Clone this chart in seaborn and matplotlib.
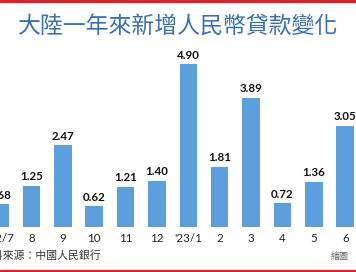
import matplotlib
matplotlib.use("Agg")
import matplotlib.pyplot as plt
import seaborn as sns
import pandas as pd
from matplotlib.patches import Rectangle

months = ["'22/7", "8", "9", "10", "11", "12", "'23/1", "2", "3", "4", "5", "6"]
values = [0.68, 1.25, 2.47, 0.62, 1.21, 1.40, 4.90, 1.81, 3.89, 0.72, 1.36, 3.05]
title = "大陸一年來新增人民幣貸款變化"
source = "資料來源：中國人民銀行"
credit = "繪圖"

sns.set_theme(style="white")
plt.rcParams['font.family'] = ['Lato', 'Noto Sans CJK TC', 'DejaVu Sans']

W, H = 356, 272
fig = plt.figure(figsize=(W / 100, H / 100), dpi=100)
base_px = 227
top_px = 50
ax = fig.add_axes([0, (H - base_px) / H, 1, (base_px - top_px) / H])

df = pd.DataFrame({"month": months, "value": values})
sns.barplot(data=df, x="month", y="value", order=months, color="#5b9fdd",
            saturation=1, width=0.56, ax=ax, edgecolor="none")

px_per_unit = 33.2
ax.set_ylim(0, (base_px - top_px) / px_per_unit)
ax.set_xlim(7 / 32, 363 / 32)

for i, v in enumerate(values):
    ax.annotate(f"{v:.2f}", (i, v), xytext=(0, 2.5), textcoords="offset points",
                ha="center", va="bottom", fontsize=8.3, fontweight="bold",
                color="#111111", family=["Lato", "DejaVu Sans"])

ax.set_xticks(range(len(months)))
ax.set_xticklabels(months, fontsize=8.3, color="#222222")
ax.tick_params(axis="x", length=0, pad=4)
ax.set_yticks([])
ax.set_xlabel("")
ax.set_ylabel("")
for s in ax.spines.values():
    s.set_visible(False)

fig.text(0.5, 1 - 26 / H, title, ha="center", va="center", fontsize=16.5,
         color="#3a6fb0", family=["Noto Sans CJK TC", "DejaVu Sans"])
fig.text(-19 / W, 1 - 255 / H, source, ha="left", va="center", fontsize=7.8,
         color="#333333", family=["Noto Sans CJK TC", "DejaVu Sans"])
fig.text(349 / W, 1 - 256 / H, credit, ha="right", va="center", fontsize=6.5,
         color="#666666", family=["Noto Sans CJK TC", "DejaVu Sans"])

fig.patches.append(Rectangle((0, 1 - 2 / H), 1, 2 / H, transform=fig.transFigure,
                             color="#d8242b", zorder=10))
fig.patches.append(Rectangle((0, 0), 1, 2.5 / H, transform=fig.transFigure,
                             color="#d8242b", zorder=10))

fig.savefig("out.png", dpi=100)
